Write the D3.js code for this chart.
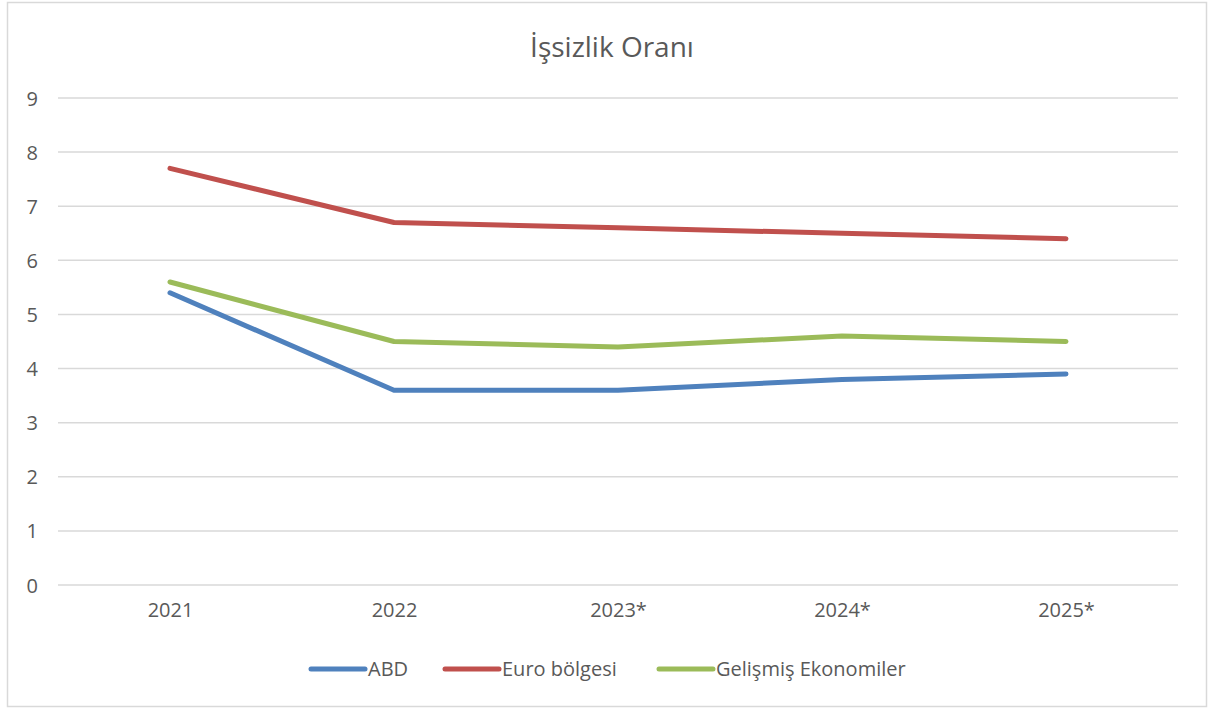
<!DOCTYPE html>
<html>
<head>
<meta charset="utf-8">
<script src="https://cdn.jsdelivr.net/npm/d3@7"></script>
<style>
  body { margin: 0; background: #fff; }
  text { font-family: "Open Sans", "Noto Sans", sans-serif; fill: #595959; }
</style>
</head>
<body>
<div id="app"></div>
<script>
const years = ['2021', '2022', '2023*', '2024*', '2025*']
const abd = [5.4, 3.6, 3.6, 3.8, 3.9]
const euro = [7.7, 6.7, 6.6, 6.5, 6.4]
const gelismis = [5.6, 4.5, 4.4, 4.6, 4.5]
const seriesNames = ['ABD', 'Euro bölgesi', 'Gelişmiş Ekonomiler']
const yTicks = [0, 1, 2, 3, 4, 5, 6, 7, 8, 9]

const w = 1210
const h = 710
const colors = ['#4F81BD', '#C0504D', '#9BBB59']
const series = [abd, euro, gelismis]

const svg = d3.select('#app')
  .append('svg')
  .attr('width', w)
  .attr('height', h)

svg.append('rect')
  .attr('x', 7.5).attr('y', 2.5)
  .attr('width', 1199).attr('height', 704)
  .attr('fill', '#fff')
  .attr('stroke', '#d9d9d9')
  .attr('stroke-width', 1.5)

svg.append('text')
  .attr('x', 612).attr('y', 57)
  .attr('text-anchor', 'middle')
  .style('font-size', '28px')
  .text('İşsizlik Oranı')

const x = d3.scalePoint()
  .domain(years)
  .range([170, 1066])

const y = d3.scaleLinear()
  .domain([0, 9])
  .range([585, 98])

// gridlines
svg.append('g')
  .selectAll('line')
  .data(yTicks)
  .enter()
  .append('line')
  .attr('x1', 58).attr('x2', 1178)
  .attr('y1', d => y(d)).attr('y2', d => y(d))
  .attr('stroke', '#d9d9d9')
  .attr('stroke-width', 1.5)

const yAxis = svg.append('g')
  .attr('transform', 'translate(38,0)')
  .call(d3.axisLeft(y).tickValues(yTicks).tickSize(0).tickPadding(0))
yAxis.select('.domain').remove()
yAxis.selectAll('text').style('font-size', '20px').attr('fill', '#595959').attr('dy', '0.35em')

const xAxis = svg.append('g')
  .attr('transform', 'translate(0,585)')
  .call(d3.axisBottom(x).tickSize(0).tickPadding(18))
xAxis.select('.domain').remove()
xAxis.selectAll('text').style('font-size', '20px').attr('fill', '#595959')

const line = d3.line()
  .x((d, i) => x(years[i]))
  .y(d => y(d))

svg.append('g')
  .selectAll('path')
  .data(series)
  .enter()
  .append('path')
  .attr('d', line)
  .attr('fill', 'none')
  .attr('stroke', (d, i) => colors[i])
  .attr('stroke-width', 5)
  .attr('stroke-linecap', 'round')
  .attr('stroke-linejoin', 'round')

// legend
const legendX = [311, 445, 659]
const legend = svg.append('g')
  .selectAll('g')
  .data(seriesNames)
  .enter()
  .append('g')
  .attr('transform', (d, i) => 'translate(' + legendX[i] + ',669)')
legend.append('line')
  .attr('x1', 0).attr('x2', 54)
  .attr('stroke', (d, i) => colors[i])
  .attr('stroke-width', 5)
  .attr('stroke-linecap', 'round')
legend.append('text')
  .attr('x', 57).attr('dy', '0.35em')
  .style('font-size', '20px')
  .text(d => d)
</script>
</body>
</html>
